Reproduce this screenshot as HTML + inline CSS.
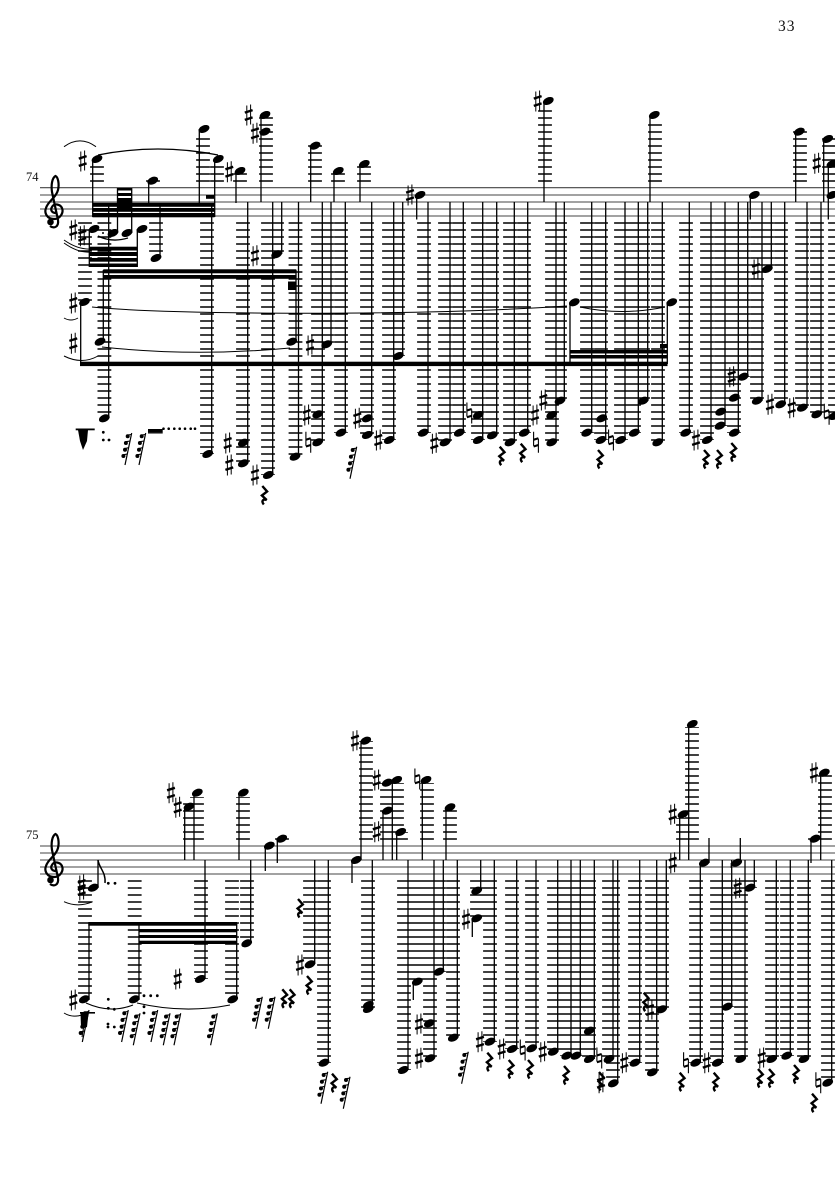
<!DOCTYPE html>
<html><head><meta charset="utf-8"><style>
html,body{margin:0;padding:0;background:#fff}
svg{display:block}
text{font-family:"Liberation Serif",serif;fill:#111}
</style></head><body>
<svg width="835" height="1181" viewBox="0 0 835 1181" xmlns="http://www.w3.org/2000/svg">
<defs>
<ellipse id="n" rx="5.7" ry="3.6" transform="rotate(-24)"/>
<g id="s" stroke="#000" fill="none"><path d="M-1.9-9.5V10.5M1.9-10.5V9.5" stroke-width="1"/><path d="M-3.9-2.4L3.9-4.9M-3.9 4.9L3.9 2.4" stroke-width="2.4"/></g>
<g id="h" stroke="#000" fill="none"><path d="M-2.4-10.5V3.5M2.4-3.5V10.5" stroke-width="1.1"/><path d="M-2.4-2.5L2.4-4M-2.4 4.2L2.4 2.7" stroke-width="2.1"/></g>
<path id="r" d="M-2-9L2.8-3.5L-2.4 .5L2.4 5C-1 3.5-3.4 6-.5 9.5" fill="none" stroke="#000" stroke-width="2.4"/>
<g id="t"><path d="M-1.7 17L5-15" stroke="#000" stroke-width="1.2" fill="none"/><circle cx="1" cy="-11.7" r="2"/><circle cx="-.8" cy="-5" r="2"/><circle cx="-1.7" cy="1.7" r="2"/><circle cx="-3.3" cy="8" r="2"/><path d="M1-13L4.6-13.5M-.8-6.3L3.3-7M-1.7.5L1.8-.3M-3.3 6.8L.5 6" stroke="#000" stroke-width="1.1"/></g>
<g id="c"><path d="M56 213C52 213 50 210 52 207C54 203 60 204 62 208C64 213 60 219 54 219C47 219 44 213 46 208C48 201 56 198 58 190C59.5 184 58 177 55.5 176C52 178 51 185 52 192L58 220C59 227 54 229 50 226" fill="none" stroke="#000" stroke-width="2.2"/><circle cx="50.5" cy="222" r="3.3"/></g>
</defs>

<text x="778" y="31" font-size="15.5" letter-spacing="1">33</text>
<text x="26" y="181" font-size="12.5">74</text>
<text x="26" y="839" font-size="12.5">75</text>

<!-- staves -->
<path stroke="#444" stroke-width="1.1" fill="none" d="M40 187.7H835M40 195H835M40 202H835M40 209H835M40 216H835M40 846H835M40 853H835M40 860H835M40 867H835M40 874H835"/>
<use href="#c"/><use href="#c" y="658"/>

<!-- ledger lines -->
<g fill="none" stroke="#000" stroke-width="13.8" stroke-dasharray="1.5 5.5">
<path d="M97 181.75V164M153 181.75V180M203 181.75V136M217 181.75V164M240 181.75V172M266 181.75V117M315 181.75V145M338 181.75V173M364 181.75V165M545 181.75V109M655 181.75V123M800 181.75V131M829 181.75V138"/>
<path d="M85 222.25V302M104.4 222.25V418M156 222.25V252M207 222.25V454M243 222.25V463M268 222.25V475M277 222.25V254M295.5 222.25V457M318 222.25V442M327 222.25V344M341 222.25V433M367 222.25V435M389 222.25V440M398 222.25V356M424 222.25V433M445 222.25V442M459 222.25V433M478 222.25V440M492 222.25V435M510 222.25V442M524 222.25V433M552 222.25V442M560 222.25V401M587 222.25V433M601 222.25V440M621 222.25V440M634 222.25V433M643 222.25V401M658 222.25V442M686 222.25V433M707 222.25V440M721 222.25V426M734 222.25V433M743 222.25V377M757 222.25V401M767 222.25V269M781 222.25V404M802 222.25V408M817 222.25V414M835 222.25V416"/>
<path d="M190 839.75V800M197 839.75V797M243 839.75V797M282 839.75V838M366 839.75V741M387 839.75V783M397 839.75V783M427 839.75V783M450 839.75V810M401 839.75V832M683 839.75V818M692 839.75V727M815 839.75V838M825 839.75V775"/>
<path d="M85 880.25V999M134.7 880.25V999M201 880.25V979M232 880.25V999M247 880.25V943M310 880.25V964M324 880.25V1063M368 880.25V1009M404 880.25V1070M417 880.25V982M430 880.25V1058M439 880.25V972M453 880.25V1038M490 880.25V1042M512 880.25V1049M532 880.25V1048M554 880.25V1052M567 880.25V1056M576 880.25V1056M589 880.25V1059M609 880.25V1059M613 880.25V1083M635 880.25V1063M652 880.25V1072M662 880.25V1009M696 880.25V1063M717 880.25V1063M727 880.25V1007M741 880.25V1059M772 880.25V1059M787 880.25V1056M804 880.25V1059M828 880.25V1083M477 880.25V918M750 880.25V888"/>
</g>

<!-- stems -->
<path fill="none" stroke="#000" stroke-width="1.3" d="M92.7 159V217M117.5 233V188M131.7 233V188M89.3 229V267M137.3 229V267M80.7 302V364M108.7 203V418M103.3 342V270M211.7 203V454M247.7 202V463M272.7 202V475M281.7 202V254M298.5 202V457M214.7 159V217M199.3 129V203M148.7 181V203M160 258V203M236 171V203M261 115V202M296 342V270
M310.7 146V202M334 171V202M360 164V202M322.3 202V442M331 202V344M345.3 202V433M371.7 202V435M393.7 202V440M402.7 202V356M416.7 195V219.5M428 202V433M450 202V442M463.3 202V433M482.7 202V440M496.7 202V435M514.3 202V442M527.7 202V433M544 101V202M556 202V442M564.3 202V401M570 302V364M591.7 202V433M605.7 202V440M625 202V440M638.3 202V433M647.7 202V401M650 115V202M662.3 202V442M667.3 302V364M689.3 202V433M711 202V440M725 202V426M738.3 202V433M747.7 202V377M750.3 195V219.5M762 202V401M771.3 202V269M784.7 202V404M795.7 132V202M807 202V408M821 202V414M823.7 139V202M828.3 164V219.5
M98 888V860M89 1000V923M139 1000V923M236.7 1000V923M205 860V979M250.7 860V943M184.7 807V860M194 793V860M239 793V860M265.3 846V871M277.3 839V863
M361 741V860M352 860V883M314.7 860V964M328.3 860V1063M372.3 860V1009M383 811V860M392.3 780V860M396.7 832V860M422.3 780V860M446 807V860M408 860V1070M434 860V1058M413.3 982V1000M443.3 860V972M457.3 860V1038M480.7 860V891M472.3 918V937M494.3 860V1042M516.7 860V1049M536 860V1048M557.7 860V1052
M571 860V1056M580.3 860V1056M594.3 860V1059M613 860V1059M617.7 860V1083M639.7 860V1063M656.7 860V1072M666.3 860V1009M679.7 814V860M688.7 724V860M709 863V838M700.3 863V1063M740.3 863V838M722.3 860V1063M731.7 860V1007M731.3 863V868M745 860V1059M754.3 860V888M776.3 860V1059M790.3 860V1056M808.3 860V1059M811 839V863M820.7 773V860M831.7 860V1083"/>

<!-- beams -->
<g fill="#000">
<rect x="92.5" y="202.8" width="122" height="4"/><rect x="92.5" y="208" width="122" height="3.8"/><rect x="92.5" y="213" width="122" height="4.3"/>
<rect x="117" y="188" width="15" height="2.5"/><rect x="117" y="193" width="15" height="3"/><rect x="117" y="198" width="15" height="10"/>
<rect x="206" y="195" width="8" height="3.8"/>
<rect x="89.3" y="246.7" width="48" height="3.8"/><rect x="89.3" y="252" width="48" height="4"/><rect x="89.3" y="258" width="48" height="3.7"/><rect x="89.3" y="263.5" width="48" height="3.5"/>
<rect x="103.3" y="269.3" width="193" height="4"/><rect x="103.3" y="275" width="193" height="3.8"/>
<rect x="288" y="281.5" width="8" height="8.5"/>
<rect x="80" y="361.7" width="587.5" height="4.4"/>
<rect x="570" y="350" width="97.5" height="3.5"/><rect x="570" y="355" width="97.5" height="3.5"/>
<rect x="660" y="344" width="7.5" height="4"/>
<rect x="88.3" y="922" width="148.7" height="3.7"/><rect x="139" y="929" width="98" height="3.3"/><rect x="139" y="935" width="98" height="3"/><rect x="139" y="940.7" width="98" height="3.3"/>
</g>

<!-- noteheads system 1 -->
<g>
<use href="#n" x="97" y="159"/><use href="#n" x="94" y="229"/><use href="#n" x="113" y="233"/><use href="#n" x="127" y="233"/><use href="#n" x="142" y="229"/><use href="#n" x="84.5" y="302"/><use href="#n" x="100" y="341.7"/><use href="#n" x="104.3" y="418.3"/><use href="#n" x="152.7" y="180.7"/><use href="#n" x="156" y="258"/><use href="#n" x="204" y="129"/><use href="#n" x="218.3" y="159"/><use href="#n" x="207.7" y="454"/><use href="#n" x="240" y="171"/><use href="#n" x="243.3" y="442.7"/><use href="#n" x="243.3" y="463.3"/><use href="#n" x="265" y="115"/><use href="#n" x="265" y="131.7"/><use href="#n" x="268.3" y="475"/><use href="#n" x="276.7" y="254.3"/><use href="#n" x="291.7" y="341.7"/><use href="#n" x="295" y="456.7"/>
<use href="#n" x="315" y="145.7"/><use href="#n" x="338.3" y="171"/><use href="#n" x="364.3" y="164"/><use href="#n" x="317.7" y="414.3"/><use href="#n" x="317.7" y="442.3"/><use href="#n" x="326.7" y="344.3"/><use href="#n" x="341" y="432.7"/><use href="#n" x="367.3" y="418.3"/><use href="#n" x="367.3" y="435"/><use href="#n" x="389.3" y="440"/><use href="#n" x="398.3" y="356"/><use href="#n" x="420" y="195"/><use href="#n" x="423.3" y="432.7"/><use href="#n" x="445" y="442.3"/><use href="#n" x="459.3" y="432.7"/><use href="#n" x="478.3" y="415"/><use href="#n" x="478.3" y="440"/><use href="#n" x="492.3" y="435.3"/><use href="#n" x="510" y="442.3"/><use href="#n" x="524.3" y="432.7"/><use href="#n" x="548.3" y="101"/><use href="#n" x="551.7" y="415"/><use href="#n" x="551.7" y="442.3"/><use href="#n" x="560" y="400.7"/><use href="#n" x="574.3" y="302.3"/>
<use href="#n" x="586.7" y="432.7"/><use href="#n" x="601.7" y="418.3"/><use href="#n" x="601" y="440"/><use href="#n" x="620.7" y="440"/><use href="#n" x="634.3" y="432.7"/><use href="#n" x="643.3" y="400.7"/><use href="#n" x="654.3" y="115"/><use href="#n" x="657.7" y="442.3"/><use href="#n" x="671.7" y="302.3"/><use href="#n" x="685.7" y="432.7"/><use href="#n" x="707.3" y="440"/><use href="#n" x="720.7" y="411.7"/><use href="#n" x="720" y="425.7"/><use href="#n" x="734.3" y="397.7"/><use href="#n" x="734.3" y="432.7"/><use href="#n" x="743.3" y="376.7"/><use href="#n" x="754.3" y="195"/><use href="#n" x="757.3" y="400.7"/><use href="#n" x="767.3" y="269"/><use href="#n" x="780.7" y="404.3"/><use href="#n" x="799.3" y="131.7"/><use href="#n" x="802.3" y="407.7"/><use href="#n" x="816.7" y="414.3"/><use href="#n" x="827.7" y="139"/><use href="#n" x="832" y="164"/><use href="#n" x="832" y="195"/><use href="#n" x="834" y="416"/>
</g>

<!-- noteheads system 2 -->
<g>
<use href="#n" x="93.3" y="887.7"/><use href="#n" x="84.3" y="999.3"/><use href="#n" x="134.3" y="999.3"/><use href="#n" x="232.7" y="999.3"/><use href="#n" x="200.3" y="979"/><use href="#n" x="246.7" y="943.3"/><use href="#n" x="189" y="806.7"/><use href="#n" x="197.3" y="792.7"/><use href="#n" x="243.3" y="792.7"/><use href="#n" x="269.3" y="845.7"/><use href="#n" x="281.7" y="838.7"/>
<use href="#n" x="356.3" y="860"/><use href="#n" x="365.7" y="740.7"/><use href="#n" x="310" y="964.3"/><use href="#n" x="324" y="1062.7"/><use href="#n" x="368.3" y="1005"/><use href="#n" x="368.3" y="1009"/><use href="#n" x="387.3" y="782.7"/><use href="#n" x="396.7" y="780"/><use href="#n" x="387.3" y="810.7"/><use href="#n" x="400.7" y="832"/><use href="#n" x="426" y="780"/><use href="#n" x="450" y="807.3"/><use href="#n" x="403.3" y="1070"/><use href="#n" x="429.3" y="1023.3"/><use href="#n" x="430" y="1058.3"/><use href="#n" x="417.3" y="981.7"/><use href="#n" x="439" y="971.7"/><use href="#n" x="453.3" y="1037.7"/><use href="#n" x="476.7" y="890.7"/><use href="#n" x="476.7" y="918.3"/><use href="#n" x="490" y="1041.7"/><use href="#n" x="512.3" y="1049"/><use href="#n" x="531.7" y="1048.3"/><use href="#n" x="553.3" y="1051.7"/>
<use href="#n" x="566.7" y="1055.7"/><use href="#n" x="576" y="1055.7"/><use href="#n" x="589.3" y="1030.7"/><use href="#n" x="589.3" y="1059"/><use href="#n" x="609" y="1059"/><use href="#n" x="613.3" y="1083.3"/><use href="#n" x="635" y="1062.7"/><use href="#n" x="652.3" y="1072.3"/><use href="#n" x="661.7" y="1009.3"/><use href="#n" x="683" y="814.3"/><use href="#n" x="692.3" y="724"/><use href="#n" x="704.3" y="862.7"/><use href="#n" x="736.7" y="862.7"/><use href="#n" x="695.7" y="1062.7"/><use href="#n" x="717.3" y="1062.7"/><use href="#n" x="727.3" y="1006.7"/><use href="#n" x="750" y="887.7"/><use href="#n" x="740.7" y="1059"/><use href="#n" x="771.7" y="1059"/><use href="#n" x="786.7" y="1055.7"/><use href="#n" x="804" y="1059"/><use href="#n" x="815" y="838.7"/><use href="#n" x="824.3" y="772.7"/><use href="#n" x="827.7" y="1082.7"/>
</g>

<!-- sharps -->
<g>
<use href="#s" x="82.7" y="161"/><use href="#s" x="73.3" y="230"/><use href="#s" x="82.3" y="235.7"/><use href="#s" x="73.3" y="303"/><use href="#s" x="73.3" y="343.3"/><use href="#s" x="229.3" y="171.7"/><use href="#s" x="227.7" y="443"/><use href="#s" x="229.3" y="465"/><use href="#s" x="248.7" y="115"/><use href="#s" x="255" y="133.3"/><use href="#s" x="255" y="475"/><use href="#s" x="255" y="255.7"/><use href="#s" x="306.7" y="415"/><use href="#s" x="310" y="345"/><use href="#s" x="357.3" y="418.3"/><use href="#s" x="378.3" y="440"/><use href="#s" x="410" y="195"/><use href="#s" x="434.3" y="443.3"/><use href="#s" x="535" y="415"/><use href="#s" x="543.3" y="400"/><use href="#s" x="537.7" y="101"/><use href="#s" x="696" y="440"/><use href="#s" x="731.7" y="376.7"/><use href="#s" x="756" y="269"/><use href="#s" x="770" y="404.3"/><use href="#s" x="791.7" y="407.7"/><use href="#s" x="816.7" y="163.3"/>
<use href="#s" x="81.7" y="885"/><use href="#s" x="81.7" y="890"/><use href="#s" x="73.3" y="1000"/><use href="#s" x="177.7" y="979"/><use href="#s" x="177.7" y="807.3"/><use href="#s" x="171" y="792.7"/><use href="#s" x="355" y="740.7"/><use href="#s" x="300" y="965"/><use href="#s" x="376.7" y="780"/><use href="#s" x="376.7" y="831.7"/><use href="#s" x="419" y="1024"/><use href="#s" x="419" y="1058.3"/><use href="#s" x="466" y="919.3"/><use href="#s" x="480" y="1041.7"/><use href="#s" x="501.7" y="1049"/><use href="#s" x="542.7" y="1051.7"/><use href="#s" x="601" y="1082.7"/><use href="#s" x="624.3" y="1062.7"/><use href="#s" x="650" y="1010"/><use href="#s" x="672.7" y="814.3"/><use href="#s" x="672.7" y="862.7"/><use href="#s" x="706.7" y="1062.7"/><use href="#s" x="737.7" y="888.3"/><use href="#s" x="761.7" y="1058"/><use href="#s" x="814" y="772.7"/>
</g>

<!-- naturals -->
<g>
<use href="#h" x="308.3" y="442.3"/><use href="#h" x="469.3" y="413"/><use href="#h" x="536" y="442.3"/><use href="#h" x="611" y="440"/><use href="#h" x="826.7" y="414.3"/><use href="#h" x="417.3" y="779"/><use href="#h" x="522.7" y="1050"/><use href="#h" x="599.3" y="1058"/><use href="#h" x="686" y="1062.7"/><use href="#h" x="818.3" y="1082.7"/>
</g>

<!-- quarter rests -->
<g>
<use href="#r" x="264.3" y="495"/><use href="#r" x="501.7" y="455.7"/><use href="#r" x="522.7" y="452.7"/><use href="#r" x="600" y="459"/><use href="#r" x="706" y="459"/><use href="#r" x="719" y="459"/><use href="#r" x="733.3" y="452"/>
<use href="#r" x="284.3" y="998.3"/><use href="#r" x="291.7" y="998.3"/><use href="#r" x="300" y="908"/><use href="#r" x="309" y="985"/><use href="#r" x="334" y="1082.7"/><use href="#r" x="489.3" y="1061.7"/><use href="#r" x="510.7" y="1069"/><use href="#r" x="530" y="1069"/><use href="#r" x="566" y="1075"/><use href="#r" x="601" y="1081"/><use href="#r" x="645.7" y="1001.7"/><use href="#r" x="681.7" y="1081.7"/><use href="#r" x="715.7" y="1081.7"/><use href="#r" x="760" y="1078"/><use href="#r" x="771" y="1078"/><use href="#r" x="796" y="1074"/><use href="#r" x="814" y="1102.7"/>
</g>

<!-- 64th rests -->
<g>
<use href="#t" x="126.7" y="448"/><use href="#t" x="140.7" y="448"/><use href="#t" x="351.7" y="461.7"/>
<use href="#t" x="123.3" y="1025"/><use href="#t" x="135" y="1028.3"/><use href="#t" x="152.7" y="1025"/><use href="#t" x="165" y="1028.3"/><use href="#t" x="175.7" y="1028.3"/><use href="#t" x="212.3" y="1028.3"/><use href="#t" x="257.3" y="1011.7"/><use href="#t" x="270" y="1011.7"/><use href="#t" x="345" y="1091.7"/><use href="#t" x="463.3" y="1066.7"/><use href="#t" x="322.7" y="1086.7"/>
</g>

<!-- clumps and small marks -->
<g fill="#000">
<rect x="75.7" y="428.5" width="19" height="1.8"/><path d="M78 430H88L87 441L83 450L80 441Z"/>
<rect x="80" y="1012" width="15" height="1.6"/><path d="M80.5 1013H88.5L87 1027L84.5 1028L81 1027Z"/><path d="M84 1025L82 1037" stroke="#000" stroke-width="1"/><use href="#t" x="84" y="1025" />
<rect x="148" y="429" width="14.7" height="3.6"/><rect x="148" y="432.6" width="14.7" height=".9"/>
<circle cx="103.3" cy="432.3" r="1.4"/><circle cx="103.3" cy="440" r="1.4"/><circle cx="109" cy="440" r="1.4"/>
<circle cx="163.5" cy="428.7" r="1.3"/><circle cx="168.7" cy="428.7" r="1.3"/><circle cx="174.3" cy="428.7" r="1.3"/><circle cx="179.7" cy="428.7" r="1.3"/><circle cx="185" cy="428.7" r="1.3"/><circle cx="190.7" cy="428.7" r="1.3"/><circle cx="195" cy="428.7" r="1.3"/>
<circle cx="103" cy="233" r="1"/>
<circle cx="108.3" cy="883.3" r="1.4"/><circle cx="115" cy="883.3" r="1.4"/>
<circle cx="108.3" cy="999.3" r="1.4"/><circle cx="108.3" cy="1008.3" r="1.4"/><circle cx="114.3" cy="1009.3" r="1.4"/><circle cx="108" cy="1024" r="1.4"/><circle cx="108" cy="1027" r="1.4"/><circle cx="114.3" cy="1027" r="1.4"/>
<circle cx="144" cy="995.7" r="1.4"/><circle cx="150.7" cy="995.7" r="1.4"/><circle cx="157.3" cy="995.7" r="1.4"/><circle cx="144" cy="1006.7" r="1.4"/><circle cx="144" cy="1013" r="1.4"/>
</g>

<!-- flag and slurs -->
<g fill="none" stroke="#000" stroke-width="1">
<path d="M98 860C99 868 106 872 105 883" stroke-width="1.5"/>
<path d="M64 146.7Q80 135 96 146.7"/>
<path d="M98 155Q158 143 218 155" stroke-width="1.2"/>
<path d="M64 240Q78 250 92 249M64 243Q78 253 90 252"/>
<path d="M98 236Q112 243 128 238" stroke-width="1.3"/>
<path d="M64 318Q71 322 78 318"/>
<path d="M64 356Q82 365 98 356"/>
<path d="M92 307C170 315 420 316 567 306"/>
<path d="M102 347Q195 357 290 348"/>
<path d="M580 307Q622 316 665 307"/>
<path d="M64 901.7Q78 908 92.7 901.7"/>
<path d="M86 1003Q110 1014 133 1005" stroke-width="1.1"/>
<path d="M137 1003Q184 1014 230 1005" stroke-width="1.1"/>
<path d="M64 1013Q72 1018 82 1015"/>
</g>
</svg>
</body></html>
